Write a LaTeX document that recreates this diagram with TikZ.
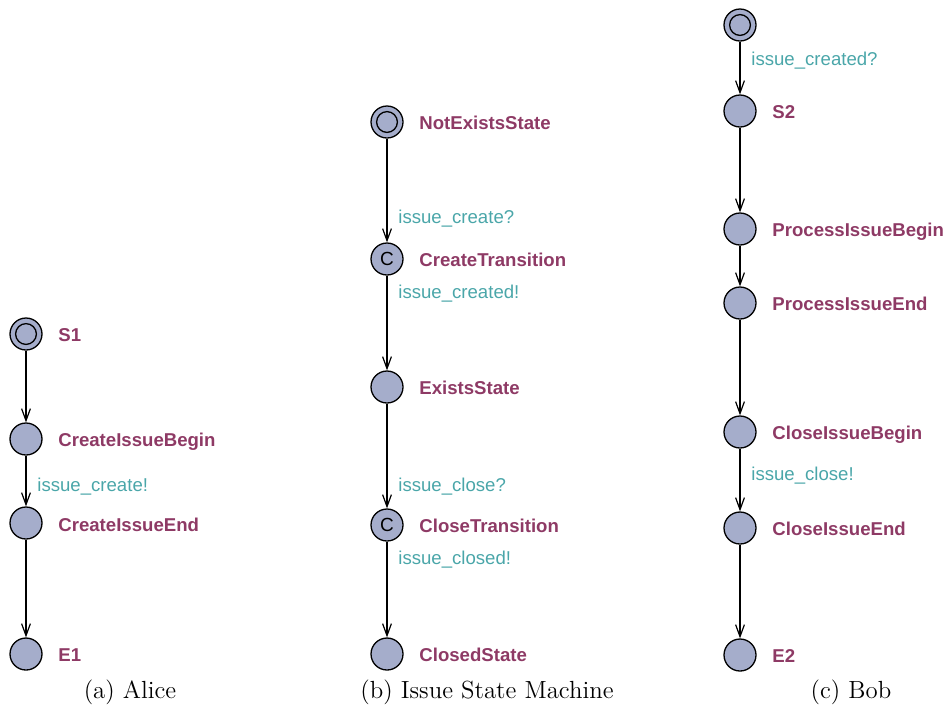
\documentclass[tikz,border=0pt]{standalone}
\usepackage{fontspec}
\newfontfamily\lblfont{Liberation Sans}
\usetikzlibrary{arrows.meta}
\definecolor{locfill}{HTML}{A5ADCB}
\definecolor{locname}{HTML}{8E3A65}
\definecolor{syncname}{HTML}{4AA6A9}
\tikzset{
  loc/.style={circle, draw=black, line width=0.65pt, fill=locfill, minimum size=16pt, inner sep=0pt},
  committed/.style={loc, font=\lblfont\fontsize{9.5}{10}\selectfont},
  locname/.style={anchor=mid west, inner sep=0pt, text=locname, font=\lblfont\bfseries\fontsize{9.3}{10}\selectfont},
  sync/.style={anchor=mid west, inner sep=0pt, text=syncname, font=\lblfont\fontsize{9.3}{10}\selectfont},
  trans/.style={draw=black, line width=0.6pt, -{Straight Barb[length=6pt,width=4.4pt,line width=0.6pt]}},
  subcap/.style={anchor=mid, inner sep=0pt, font=\fontsize{12.4}{14}\selectfont}
}
\begin{document}
\begin{tikzpicture}[x=0.5pt, y=-0.5pt]
\useasboundingbox (0,0) rectangle (945,709);

% ---------------- (a) Alice ----------------
\node[loc] (s1) at (26,334) {};
\draw[line width=0.65pt] (s1.center) circle (5.2pt);
\node[loc] (cib) at (26,439) {};
\node[loc] (cie) at (26,523) {};
\node[loc] (e1) at (26,654) {};
\node[locname] (s1l) at (58,337) {S1};
\node[locname] (cibl) at (58,442) {CreateIssueBegin};
\node[locname] (ciel) at (58,527) {CreateIssueEnd};
\node[locname] (e1l) at (58,657) {E1};
\draw[trans] (s1) -- (cib);
\draw[trans] (cib) -- (cie);
\draw[trans] (cie) -- (e1);
\node[sync] (a1) at (37,487) {issue\_create!};
\node[subcap] (capa) at (130,694) {(a) Alice};

% ---------------- (b) Issue State Machine ----------------
\node[loc] (nes) at (387,122) {};
\draw[line width=0.65pt] (nes.center) circle (5.2pt);
\node[committed] (ct) at (387,259) {C};
\node[loc] (es) at (387,387) {};
\node[committed] (clt) at (387,525) {C};
\node[loc] (cs) at (387,654) {};
\node[locname] (nesl) at (419,125) {NotExistsState};
\node[locname] (ctl) at (419,262) {CreateTransition};
\node[locname] (esl) at (419,390) {ExistsState};
\node[locname] (cltl) at (419,528) {CloseTransition};
\node[locname] (csl) at (419,657) {ClosedState};
\draw[trans] (nes) -- (ct);
\draw[trans] (ct) -- (es);
\draw[trans] (es) -- (clt);
\draw[trans] (clt) -- (cs);
\node[sync] (b1) at (398,219) {issue\_create?};
\node[sync] (b2) at (398,294) {issue\_created!};
\node[sync] (b3) at (398,487) {issue\_close?};
\node[sync] (b4) at (398,560) {issue\_closed!};
\node[subcap] (capb) at (487,694) {(b) Issue State Machine};

% ---------------- (c) Bob ----------------
\node[loc] (b0) at (740,25) {};
\draw[line width=0.65pt] (b0.center) circle (5.2pt);
\node[loc] (s2) at (740,111) {};
\node[loc] (pib) at (740,229) {};
\node[loc] (pie) at (740,303) {};
\node[loc] (clb) at (740,432) {};
\node[loc] (cle) at (740,528) {};
\node[loc] (e2) at (740,655) {};
\node[locname] (s2l) at (772,114) {S2};
\node[locname] (pibl) at (772,232) {ProcessIssueBegin};
\node[locname] (piel) at (772,306) {ProcessIssueEnd};
\node[locname] (clbl) at (772,435) {CloseIssueBegin};
\node[locname] (clel) at (772,531) {CloseIssueEnd};
\node[locname] (e2l) at (772,658) {E2};
\draw[trans] (b0) -- (s2);
\draw[trans] (s2) -- (pib);
\draw[trans] (pib) -- (pie);
\draw[trans] (pie) -- (clb);
\draw[trans] (clb) -- (cle);
\draw[trans] (cle) -- (e2);
\node[sync] (c1) at (751,61) {issue\_created?};
\node[sync] (c2) at (751,476) {issue\_close!};
\node[subcap] (capc) at (851,694) {(c) Bob};
\end{tikzpicture}
\end{document}
